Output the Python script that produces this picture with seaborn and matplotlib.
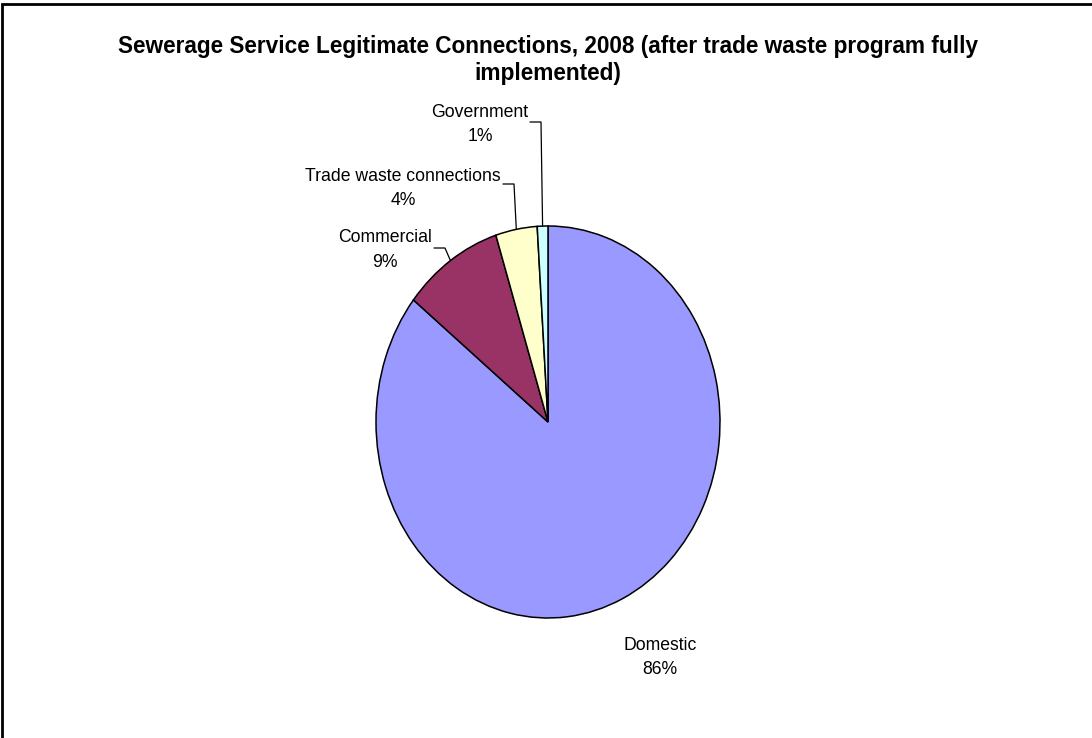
import numpy as np
import seaborn as sns
import matplotlib.pyplot as plt
from matplotlib.patches import Rectangle

# data
categories = ['Domestic', 'Commercial', 'Trade waste connections', 'Government']
shares = [85.7, 9.4, 3.9, 1.0]
colors = ['#9999FF', '#993366', '#FFFFCC', '#CCFFFF']
title = 'Sewerage Service Legitimate Connections, 2008 (after trade waste program fully\nimplemented)'

sns.set_style('white')
plt.rcParams['font.family'] = ['Liberation Sans', 'DejaVu Sans']

W, H = 1092, 738
CX, CY, RX, RY = 548, 422, 172, 196  # pie centre and radii in pixels (Excel stretches it)


def px(x, y):
    # pixel position -> data coords of the stretched axes
    return (x - CX) / RX, (CY - y) / RY


fig = plt.figure(figsize=(W / 100, H / 100), dpi=100)
ax = fig.add_axes([0, 0, 1, 1])

wedges, _ = ax.pie(shares, colors=colors, startangle=90, counterclock=False,
                   wedgeprops=dict(edgecolor='black', linewidth=1.1))
ax.set_aspect('auto')
ax.set_xlim((0 - CX) / RX, (W - CX) / RX)
ax.set_ylim((CY - H) / RY, CY / RY)
ax.axis('off')

# label positions (text centre, pixels) and leader elbows
label_pos = [(660, 657.5), (385, 250), (403, 188.5), (480, 124.5)]
elbows = [None, (434, 445, 248), (503, 514, 184), (530, 541, 122)]

total = sum(shares)
for w, name, val, pos, elb in zip(wedges, categories, shares, label_pos, elbows):
    pct = round(val / total * 100)
    tx, ty = px(*pos)
    ax.text(tx, ty, f'{name}\n{pct}%', ha='center', va='center', fontsize=12.7,
            linespacing=1.58, color='black')
    if elb is not None:
        mid = np.deg2rad((w.theta1 + w.theta2) / 2)
        ex, ey = np.cos(mid), np.sin(mid)
        x0, y0 = px(elb[0], elb[2])
        x1, y1 = px(elb[1], elb[2])
        ax.plot([x0, x1, ex], [y0, y1, ey], color='black', linewidth=0.9)

fig.text(CX / W, 1 - 60 / H, title, ha='center', va='center', fontsize=16.3,
         fontweight='bold', linespacing=1.26, color='black')

# chart area border (runs off the right and bottom edge)
fig.patches.append(Rectangle((1.5 / W, -0.01), 1.02, 1 - 4 / H + 0.01,
                             transform=fig.transFigure, fill=False,
                             edgecolor='black', linewidth=2))

plt.savefig('out.png', dpi=100)
plt.close()
